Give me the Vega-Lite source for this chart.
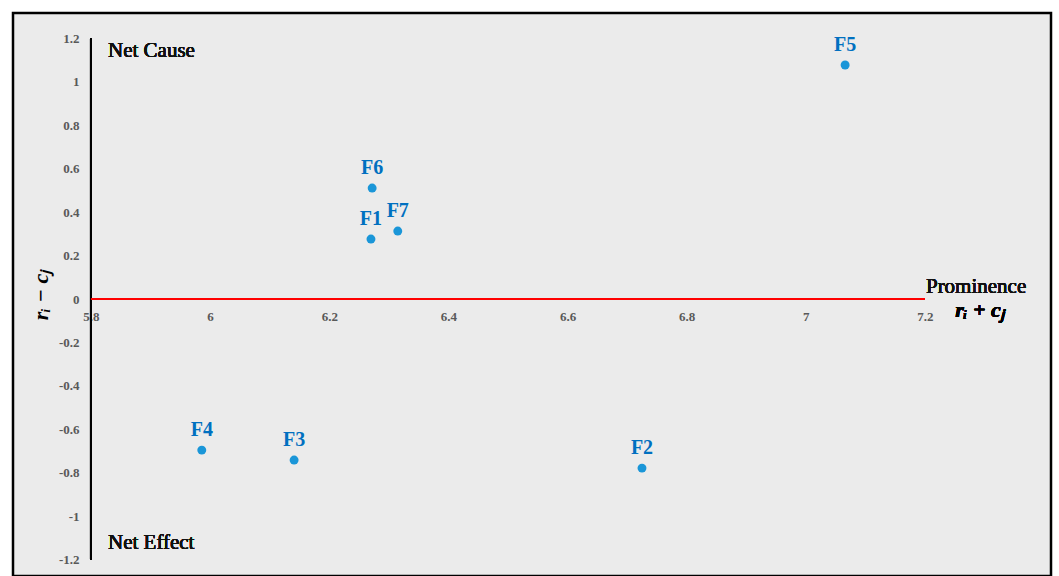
{
  "$schema": "https://vega.github.io/schema/vega-lite/v6.json",
  "width": 1038,
  "height": 563,
  "autosize": {"type": "none"},
  "padding": {"left": 13, "top": 13, "right": 8, "bottom": 0},
  "background": "white",
  "config": {
    "view": {"stroke": "black", "strokeWidth": 2.5, "fill": "#ebebeb"},
    "axis": {"grid": false},
    "font": "Liberation Serif"
  },
  "data": {
    "values": [
      {"factor": "F1", "prominence": 6.270, "relation": 0.276},
      {"factor": "F2", "prominence": 6.725, "relation": -0.779},
      {"factor": "F3", "prominence": 6.141, "relation": -0.742},
      {"factor": "F4", "prominence": 5.986, "relation": -0.696},
      {"factor": "F5", "prominence": 7.066, "relation": 1.078},
      {"factor": "F6", "prominence": 6.272, "relation": 0.511},
      {"factor": "F7", "prominence": 6.315, "relation": 0.313}
    ]
  },
  "layer": [
    {
      "mark": {"type": "rule", "color": "black", "strokeWidth": 2},
      "encoding": {
        "x": {"datum": 5.8, "type": "quantitative", "scale": {"domain": [5.6691, 7.4116], "nice": false, "zero": false},
          "axis": {"orient": "bottom", "offset": -277, "domain": false, "ticks": false, "values": [5.8, 6, 6.2, 6.4, 6.6, 6.8, 7, 7.2],
            "labelExpr": "'' + round(datum.value*10)/10", "labelFont": "Liberation Serif", "labelFontWeight": "bold", "labelFontSize": 13,
            "labelColor": "#595959", "labelPadding": 11, "title": null}},
        "y": {"datum": -1.2, "type": "quantitative", "scale": {"domain": [-1.2759, 1.3174], "nice": false, "zero": false},
          "axis": {"orient": "left", "offset": -78, "domain": false, "ticks": false, "values": [-1.2, -1, -0.8, -0.6, -0.4, -0.2, 0, 0.2, 0.4, 0.6, 0.8, 1, 1.2],
            "labelExpr": "'' + round(datum.value*10)/10", "labelFont": "Liberation Serif", "labelFontWeight": "bold", "labelFontSize": 13,
            "labelColor": "#595959", "labelPadding": 12,
            "title": "rᵢ − cⱼ", "titleFont": "Liberation Serif", "titleFontStyle": "italic", "titleFontWeight": "bold", "titleFontSize": 22, "titleColor": "black", "titlePadding": 6}},
        "y2": {"datum": 1.2}
      }
    },
    {
      "mark": {"type": "rule", "color": "#ff0000", "strokeWidth": 2},
      "encoding": {
        "x": {"datum": 5.8, "type": "quantitative"},
        "x2": {"datum": 7.2},
        "y": {"datum": 0, "type": "quantitative"}
      }
    },
    {
      "mark": {"type": "circle", "color": "#1a96d8", "opacity": 1, "size": 80},
      "encoding": {
        "x": {"field": "prominence", "type": "quantitative"},
        "y": {"field": "relation", "type": "quantitative"}
      }
    },
    {
      "mark": {"type": "text", "color": "#0070c0", "font": "Liberation Serif", "fontWeight": "bold", "fontSize": 20, "align": "center", "baseline": "alphabetic", "dy": -14},
      "encoding": {
        "x": {"field": "prominence", "type": "quantitative"},
        "y": {"field": "relation", "type": "quantitative"},
        "text": {"field": "factor"}
      }
    },
    {
      "mark": {"type": "text", "text": "Net Cause", "color": "#111111", "font": "Liberation Serif", "fontSize": 21, "align": "left", "baseline": "alphabetic", "dx": 17, "dy": 19},
      "encoding": {"x": {"datum": 5.8, "type": "quantitative"}, "y": {"datum": 1.2, "type": "quantitative"}}
    },
    {
      "mark": {"type": "text", "text": "Net Effect", "color": "#111111", "font": "Liberation Serif", "fontSize": 21, "align": "left", "baseline": "alphabetic", "dx": 17, "dy": -11},
      "encoding": {"x": {"datum": 5.8, "type": "quantitative"}, "y": {"datum": -1.2, "type": "quantitative"}}
    },
    {
      "mark": {"type": "text", "text": "Prominence", "color": "#111111", "font": "Liberation Serif", "fontSize": 21, "align": "left", "baseline": "alphabetic", "dx": 1, "dy": -6},
      "encoding": {"x": {"datum": 7.2, "type": "quantitative"}, "y": {"datum": 0, "type": "quantitative"}}
    },
    {
      "mark": {"type": "text", "text": "rᵢ + cⱼ", "color": "black", "font": "Liberation Serif", "fontStyle": "italic", "fontWeight": "bold", "fontSize": 22, "align": "center", "baseline": "alphabetic", "dx": 55, "dy": 18},
      "encoding": {"x": {"datum": 7.2, "type": "quantitative"}, "y": {"datum": 0, "type": "quantitative"}}
    }
  ]
}
